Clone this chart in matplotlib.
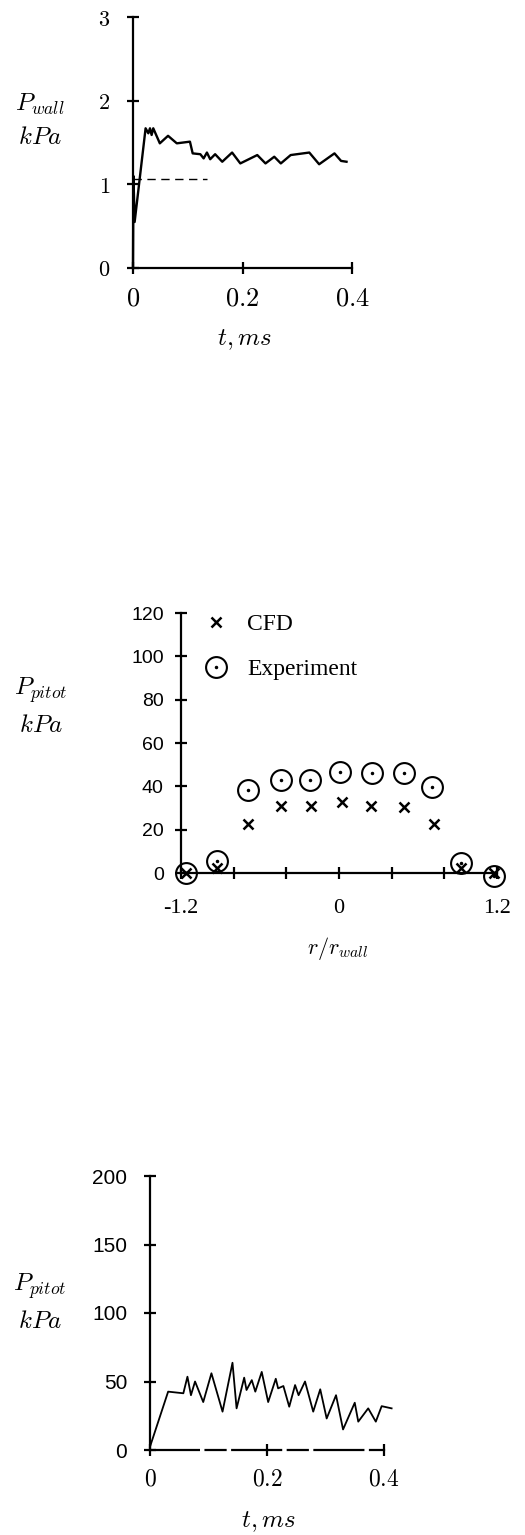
import matplotlib
matplotlib.use('Agg')
import matplotlib.pyplot as plt
import numpy as np

plt.rcParams['mathtext.fontset'] = 'cm'
plt.rcParams['font.family'] = ['DejaVu Serif']

# --- panel 1: wall pressure history
t_wall = [0, 0.0008, 0.003, 0.023, 0.028, 0.031, 0.034, 0.037, 0.049, 0.064, 0.080,
          0.104, 0.109, 0.123, 0.129, 0.135, 0.141, 0.150, 0.163, 0.181, 0.196,
          0.227, 0.242, 0.258, 0.270, 0.288, 0.322, 0.340, 0.368, 0.380, 0.390]
p_wall = [0, 1.1, 0.55, 1.67, 1.61, 1.67, 1.59, 1.67, 1.49, 1.58, 1.49,
          1.51, 1.37, 1.36, 1.31, 1.38, 1.30, 1.36, 1.27, 1.38, 1.25,
          1.35, 1.25, 1.33, 1.25, 1.35, 1.38, 1.24, 1.37, 1.28, 1.27]
t_ref = [0, 0.136]
p_ref = [1.06, 1.06]

# --- panel 2: pitot profile
r_exp = [-1.16, -0.925, -0.69, -0.44, -0.22, 0.01, 0.25, 0.49, 0.71, 0.925, 1.175]
p_exp = [0, 5.4, 38.5, 43, 43, 46.5, 46, 46, 39.7, 4.6, -1.2]
r_cfd = [-1.16, -0.925, -0.69, -0.44, -0.21, 0.02, 0.24, 0.49, 0.72, 0.925, 1.175]
p_cfd = [0, 2.5, 22.8, 30.8, 30.8, 33, 30.8, 30.5, 22.8, 2.5, 0]

# --- panel 3: pitot history
t_pit = [0, 0.031, 0.057, 0.064, 0.070, 0.077, 0.091, 0.105, 0.124, 0.141, 0.148,
         0.161, 0.165, 0.174, 0.180, 0.191, 0.202, 0.215, 0.219, 0.228, 0.238,
         0.248, 0.254, 0.265, 0.279, 0.291, 0.302, 0.318, 0.330, 0.350, 0.356,
         0.373, 0.386, 0.396, 0.413]
p_pit = [2.4, 42.6, 41.4, 53.5, 40, 50, 35, 56, 28, 63.7, 30.4,
         52.8, 43.8, 51, 42.6, 57, 35, 52, 45, 46.7, 31.6,
         47.4, 40, 50, 28, 44.3, 23, 40, 15, 34.5, 20.7,
         30.4, 20.7, 32, 30.4]

W, H = 525, 1535
fig = plt.figure(figsize=(W / 100, H / 100), dpi=100)


def make_axes(left, top, right, bottom):
    return fig.add_axes([left / W, 1 - bottom / H, (right - left) / W, (bottom - top) / H])


def style(ax):
    for s in ['top', 'right']:
        ax.spines[s].set_visible(False)
    for s in ['left', 'bottom']:
        ax.spines[s].set_linewidth(1.6)
    ax.tick_params(direction='inout', length=9, width=1.6)


def mathlabels(vals):
    return ['$%s$' % v for v in vals]


def labels(ax, xlab, xpos, ylab, ypos):
    ax.set_xlabel(xlab, fontsize=18, va='center')
    ax.xaxis.set_label_coords(*xpos)
    ax.set_ylabel(ylab, fontsize=18, rotation=0, linespacing=1.5, va='center', ha='center')
    ax.yaxis.set_label_coords(*ypos)


# panel 1
ax1 = make_axes(133, 17, 352, 268)
style(ax1)
ax1.plot(t_wall, p_wall, color='black', lw=1.7, clip_on=False)
ax1.plot(t_ref, p_ref, color='black', lw=1.0, ls=(0, (6, 4)))
ax1.set_xlim(0, 0.4)
ax1.set_ylim(0, 3)
ax1.set_xticks([0, 0.2, 0.4])
ax1.set_xticklabels(mathlabels(['0', '0.2', '0.4']), fontsize=19)
ax1.set_yticks([0, 1, 2, 3])
ax1.set_yticklabels(mathlabels(['0', '1', '2', '3']), fontsize=16)
ax1.tick_params(axis='x', pad=8)
ax1.tick_params(axis='y', pad=12)
labels(ax1, '$t, ms$', (0.51, -0.285), '$P_{wall}$\n$kPa$', (-0.425, 0.59))

# panel 2
ax2 = make_axes(181, 613, 497, 873)
style(ax2)
h_cfd, = ax2.plot(r_cfd, p_cfd, ls='none', marker='x', ms=7, mew=1.8, color='black',
                  clip_on=False)
h_exp, = ax2.plot(r_exp, p_exp, ls='none', marker='o', ms=15, mew=1.5, mfc='none',
                  mec='black', clip_on=False)
h_dot, = ax2.plot(r_exp, p_exp, ls='none', marker='.', ms=3, color='black', clip_on=False)
ax2.set_xlim(-1.2, 1.2)
ax2.set_ylim(0, 120)
ax2.set_xticks(np.arange(-1.2, 1.21, 0.4))
ax2.set_xticklabels(['-1.2', '', '', '0', '', '', '1.2'], fontsize=16,
                    family='Liberation Serif')
ax2.set_yticks([0, 20, 40, 60, 80, 100, 120])
ax2.set_yticklabels(['0', '20', '40', '60', '80', '100', '120'], fontsize=14,
                    family='Liberation Sans')
ax2.tick_params(axis='x', pad=14)
ax2.tick_params(axis='y', pad=8)
labels(ax2, '$r/r_{wall}$', (0.494, -0.29), '$P_{pitot}$\n$kPa$', (-0.443, 0.64))
ax2.xaxis.label.set_fontsize(16)
ax2.legend([h_cfd, (h_exp, h_dot)], ['CFD', 'Experiment'], loc='upper left',
           bbox_to_anchor=(0.0, 1.08), frameon=False, handletextpad=0.7,
           labelspacing=1.0, handlelength=1.2,
           prop={'family': 'Liberation Serif', 'size': 17})

# panel 3
ax3 = make_axes(150, 1176, 384, 1450)
style(ax3)
ax3.spines['bottom'].set_linestyle((0, (22, 3, 9, 3)))
ax3.plot(t_pit, p_pit, color='black', lw=1.3, clip_on=False)
ax3.set_xlim(0, 0.4)
ax3.set_ylim(0, 200)
ax3.set_xticks([0, 0.2, 0.4])
ax3.set_xticklabels(mathlabels(['0', '0.2', '0.4']), fontsize=17)
ax3.set_yticks([0, 50, 100, 150, 200])
ax3.set_yticklabels(['0', '50', '100', '150', '200'], fontsize=15,
                    family='Liberation Sans')
ax3.tick_params(axis='x', pad=8)
ax3.tick_params(axis='y', pad=12)
labels(ax3, '$t, ms$', (0.504, -0.263), '$P_{pitot}$\n$kPa$', (-0.47, 0.54))

fig.savefig('out.png', dpi=100)
